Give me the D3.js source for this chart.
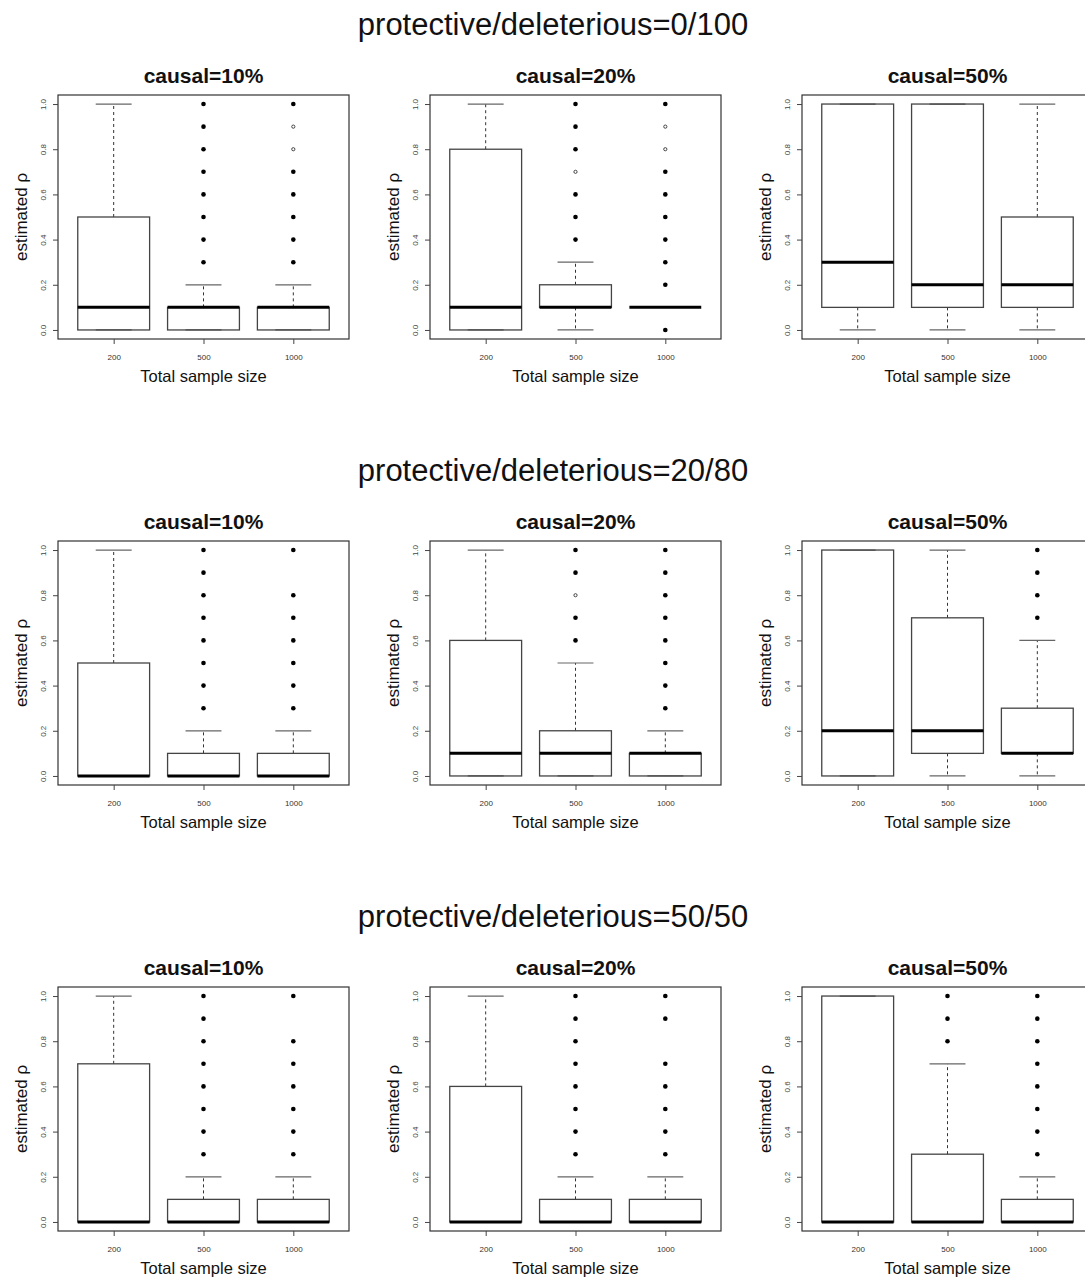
<!DOCTYPE html>
<html>
<head>
<meta charset="utf-8">
<script src="https://cdn.jsdelivr.net/npm/d3@7"></script>
<style>
  html, body { margin: 0; padding: 0; background: #fff; }
  svg { display: block; font-family: "Liberation Sans", Arial, Helvetica, sans-serif; }
</style>
</head>
<body>
<svg id="chart" width="1085" height="1277"></svg>
<script>
// ---------------- data ----------------
const rowTitles = ["protective/deleterious=0/100", "protective/deleterious=20/80", "protective/deleterious=50/50"];
const colTitles = ["causal=10%", "causal=20%", "causal=50%"];
const sampleSizes = ["200", "500", "1000"];
const yTicks = [0, 0.2, 0.4, 0.6, 0.8, 1.0];
const xLabel = "Total sample size";
const yLabel = "estimated \u03C1";

// per panel, per sample size: [lower whisker, Q1, median, Q3, upper whisker]
const stats_0_100 = [
  [[0, 0, 0.1, 0.5, 1.0], [0, 0, 0.1, 0.1, 0.2], [0, 0, 0.1, 0.1, 0.2]],
  [[0, 0, 0.1, 0.8, 1.0], [0, 0.1, 0.1, 0.2, 0.3], [0.1, 0.1, 0.1, 0.1, 0.1]],
  [[0, 0.1, 0.3, 1.0, 1.0], [0, 0.1, 0.2, 1.0, 1.0], [0, 0.1, 0.2, 0.5, 1.0]]
];
const stats_20_80 = [
  [[0, 0, 0, 0.5, 1.0], [0, 0, 0, 0.1, 0.2], [0, 0, 0, 0.1, 0.2]],
  [[0, 0, 0.1, 0.6, 1.0], [0, 0, 0.1, 0.2, 0.5], [0, 0, 0.1, 0.1, 0.2]],
  [[0, 0, 0.2, 1.0, 1.0], [0, 0.1, 0.2, 0.7, 1.0], [0, 0.1, 0.1, 0.3, 0.6]]
];
const stats_50_50 = [
  [[0, 0, 0, 0.7, 1.0], [0, 0, 0, 0.1, 0.2], [0, 0, 0, 0.1, 0.2]],
  [[0, 0, 0, 0.6, 1.0], [0, 0, 0, 0.1, 0.2], [0, 0, 0, 0.1, 0.2]],
  [[0, 0, 0, 1.0, 1.0], [0, 0, 0, 0.3, 0.7], [0, 0, 0, 0.1, 0.2]]
];

// outliers (dense points)
const outliers_0_100 = [
  [[], [0.3, 0.4, 0.5, 0.6, 0.7, 0.8, 0.9, 1.0], [0.3, 0.4, 0.5, 0.6, 0.7, 1.0]],
  [[], [0.4, 0.5, 0.6, 0.8, 0.9, 1.0], [0, 0.2, 0.3, 0.4, 0.5, 0.6, 0.7, 1.0]],
  [[], [], []]
];
const outliers_20_80 = [
  [[], [0.3, 0.4, 0.5, 0.6, 0.7, 0.8, 0.9, 1.0], [0.3, 0.4, 0.5, 0.6, 0.7, 0.8, 1.0]],
  [[], [0.6, 0.7, 0.9, 1.0], [0.3, 0.4, 0.5, 0.6, 0.7, 0.8, 0.9, 1.0]],
  [[], [], [0.7, 0.8, 0.9, 1.0]]
];
const outliers_50_50 = [
  [[], [0.3, 0.4, 0.5, 0.6, 0.7, 0.8, 0.9, 1.0], [0.3, 0.4, 0.5, 0.6, 0.7, 0.8, 1.0]],
  [[], [0.3, 0.4, 0.5, 0.6, 0.7, 0.8, 0.9, 1.0], [0.3, 0.4, 0.5, 0.6, 0.7, 0.9, 1.0]],
  [[], [0.8, 0.9, 1.0], [0.3, 0.4, 0.5, 0.6, 0.7, 0.8, 0.9, 1.0]]
];
// outliers (single / sparse points, drawn as faint open circles)
const sparse_0_100 = [
  [[], [], [0.8, 0.9]],
  [[], [0.7], [0.8, 0.9]],
  [[], [], []]
];
const sparse_20_80 = [
  [[], [], []],
  [[], [0.8], []],
  [[], [], []]
];
const sparse_50_50 = [
  [[], [], []],
  [[], [], []],
  [[], [], []]
];

const rowsData = [
  { title: rowTitles[0], stats: stats_0_100, out: outliers_0_100, sparse: sparse_0_100 },
  { title: rowTitles[1], stats: stats_20_80, out: outliers_20_80, sparse: sparse_20_80 },
  { title: rowTitles[2], stats: stats_50_50, out: outliers_50_50, sparse: sparse_50_50 }
];

// ---------------- layout ----------------
const rowPitch = 446, colPitch = 372;
const plotTop0 = 95, plotLeft0 = 58;
const plotW = 291, plotH = 244;
const ink = "#333";

const svg = d3.select("#chart");

rowsData.forEach((row, r) => {
  const top = plotTop0 + r * rowPitch;
  svg.append("text")
    .attr("x", 553).attr("y", top - 60)
    .attr("text-anchor", "middle")
    .attr("font-size", 31)
    .attr("fill", "#111")
    .text(row.title);

  colTitles.forEach((ct, c) => {
    const left = plotLeft0 + c * colPitch;
    const g = svg.append("g").attr("transform", `translate(${left},${top})`);

    const x = d3.scalePoint().domain(sampleSizes).range([0, plotW]).padding(0.62);
    const y = d3.scaleLinear().domain([-0.04, 1.04]).range([plotH, 0]);
    const bw = 0.8 * x.step();

    // panel title
    g.append("text")
      .attr("x", plotW / 2).attr("y", -12.5)
      .attr("text-anchor", "middle")
      .attr("font-size", 21).attr("font-weight", "bold")
      .attr("fill", "#111")
      .text(ct);

    // boxes
    sampleSizes.forEach((ss, i) => {
      const [lo, q1, med, q3, hi] = row.stats[c][i];
      const cx = x(ss);
      const bx = g.append("g");
      // whiskers
      bx.append("line").attr("x1", cx).attr("x2", cx).attr("y1", y(q3)).attr("y2", y(hi))
        .attr("stroke", ink).attr("stroke-width", 1).attr("stroke-dasharray", "3,3");
      bx.append("line").attr("x1", cx).attr("x2", cx).attr("y1", y(q1)).attr("y2", y(lo))
        .attr("stroke", ink).attr("stroke-width", 1).attr("stroke-dasharray", "3,3");
      // staples
      [hi, lo].forEach(v => {
        bx.append("line").attr("x1", cx - bw / 4).attr("x2", cx + bw / 4)
          .attr("y1", y(v)).attr("y2", y(v))
          .attr("stroke", "#666").attr("stroke-width", 1.2);
      });
      // box
      bx.append("rect")
        .attr("x", cx - bw / 2).attr("y", y(q3))
        .attr("width", bw).attr("height", Math.max(0, y(q1) - y(q3)))
        .attr("fill", "none").attr("stroke", "#444").attr("stroke-width", 1.3);
      // median
      bx.append("line").attr("x1", cx - bw / 2).attr("x2", cx + bw / 2)
        .attr("y1", y(med)).attr("y2", y(med))
        .attr("stroke", "#000").attr("stroke-width", 3);
      // outliers
      bx.selectAll("circle.o").data(row.out[c][i]).join("circle")
        .attr("class", "o")
        .attr("cx", cx).attr("cy", d => y(d)).attr("r", 2.3)
        .attr("fill", "#000");
      bx.selectAll("circle.s").data(row.sparse[c][i]).join("circle")
        .attr("class", "s")
        .attr("cx", cx).attr("cy", d => y(d)).attr("r", 1.6)
        .attr("fill", "none").attr("stroke", "#444").attr("stroke-width", 1);
    });

    // frame
    g.append("rect").attr("x", 0).attr("y", 0).attr("width", plotW).attr("height", plotH)
      .attr("fill", "none").attr("stroke", "#333").attr("stroke-width", 1.2);

    // y axis
    const ya = g.append("g").call(
      d3.axisLeft(y).tickValues(yTicks).tickSize(5).tickSizeOuter(0).tickFormat(d3.format(".1f"))
    );
    ya.select(".domain").attr("stroke", "none");
    ya.selectAll(".tick line").attr("stroke", "#444");
    ya.selectAll(".tick text")
      .attr("x", 0).attr("dy", 0)
      .attr("text-anchor", "middle")
      .attr("transform", "translate(-12,0) rotate(-90)")
      .attr("font-size", 8).attr("fill", "#444")
      .attr("font-family", "Liberation Sans, Arial, sans-serif");

    // x axis
    const xa = g.append("g").attr("transform", `translate(0,${plotH})`).call(
      d3.axisBottom(x).tickSize(5).tickSizeOuter(0).tickPadding(10)
    );
    xa.select(".domain").attr("stroke", "none");
    xa.selectAll(".tick line").attr("stroke", "#444");
    xa.selectAll(".tick text")
      .attr("font-size", 8).attr("fill", "#333")
      .attr("font-family", "Liberation Sans, Arial, sans-serif");

    // axis labels
    g.append("text")
      .attr("x", plotW / 2).attr("y", plotH + 43)
      .attr("text-anchor", "middle").attr("font-size", 16.5).attr("fill", "#111")
      .text(xLabel);
    g.append("text")
      .attr("transform", `translate(-31,${plotH / 2}) rotate(-90)`)
      .attr("text-anchor", "middle").attr("font-size", 17).attr("fill", "#111")
      .text(yLabel);
  });
});
</script>
</body>
</html>
